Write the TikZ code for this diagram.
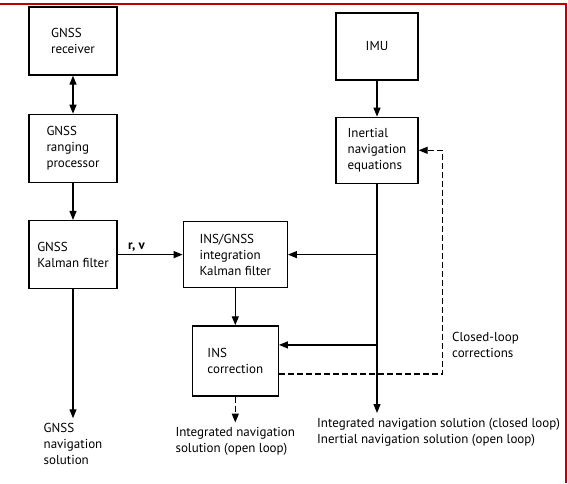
\documentclass[tikz,border=0pt]{standalone}
\usepackage{fontspec}
\setmainfont{PT Sans}
\usetikzlibrary{positioning,arrows.meta}

\begin{document}
\begin{tikzpicture}[x=1pt, y=-1pt,
box/.style={draw, line width=1.3pt, align=left, minimum width=88pt,
            minimum height=68pt, inner sep=2pt, font=\fontsize{13}{16}\selectfont},
lbl/.style={align=left, inner sep=0pt, font=\fontsize{13}{16}\selectfont},
arrow/.style={-{Triangle[length=9pt,width=7pt]}, line width=1.3pt},
fb/.style={arrow, dash pattern=on 6pt off 3pt}
]
\useasboundingbox (0,0) rectangle (568,483);
\draw[red!75!black, line width=1.6pt] (0,4) -- (566,4) -- (566,483);

% GNSS chain
\node[box] (rcv) at (73,41) {GNSS\\receiver};
\node[box, below=38pt of rcv] (rng) {GNSS\\ranging\\processor};
\node[box, below=37pt of rng] (gkf) {GNSS\\Kalman filter};

% integration
\node[box, right=65pt of gkf, minimum width=104pt, minimum height=66pt] (ikf)
{INS/GNSS\\integration\\Kalman filter};
\node[box, below=37pt of ikf, minimum width=86pt, minimum height=70pt] (cor)
{INS\\correction};

% inertial chain
\node[box, minimum width=82pt, minimum height=67pt] (imu) at (377,46.5) {IMU};
\node[box, below=36pt of imu, minimum width=82pt, minimum height=66pt] (ine)
{Inertial\\navigation\\equations};

% outputs
\node[lbl, below=134pt of gkf] (gsol) {GNSS\\navigation\\solution};
\node[lbl, below=31pt of cor] (osol) {Integrated navigation\\solution (open loop)};
\node[lbl, anchor=north west] (csol) at (317,418)
{Integrated navigation solution (closed loop)\\Inertial navigation solution (open loop)};
\node[lbl, anchor=west] (clc) at (452,345) {Closed-loop\\corrections};

\coordinate (fbin) at ([yshift=16pt]cor.east);
\coordinate (fbout) at ([yshift=-13pt]cor.east);

\draw[arrow, {Triangle[length=9pt,width=7pt]}-{Triangle[length=9pt,width=7pt]}] (rcv) -- (rng);
\draw[arrow] (rng) -- (gkf);
\draw[arrow] (gkf) -- node[above, pos=0.29, inner sep=3pt, font=\fontsize{13}{14}\selectfont\bfseries] {r, v} (ikf);
\draw[arrow, shorten >=5pt] (gkf) -- (gsol);
\draw[arrow] (ikf) -- (cor);
\draw[arrow] (imu) -- (ine);
\draw[arrow, shorten >=5pt] (ine) -- (ine |- csol.north);
\draw[arrow] (ine.south |- ikf.east) -- (ikf.east);
\draw[arrow] (ine.south |- fbin) -- (fbin);
\draw[fb] (fbout) -| ([xshift=24pt]ine.east) -- (ine.east);
\draw[fb, shorten >=5pt] (cor) -- (osol);
\end{tikzpicture}
\end{document}
